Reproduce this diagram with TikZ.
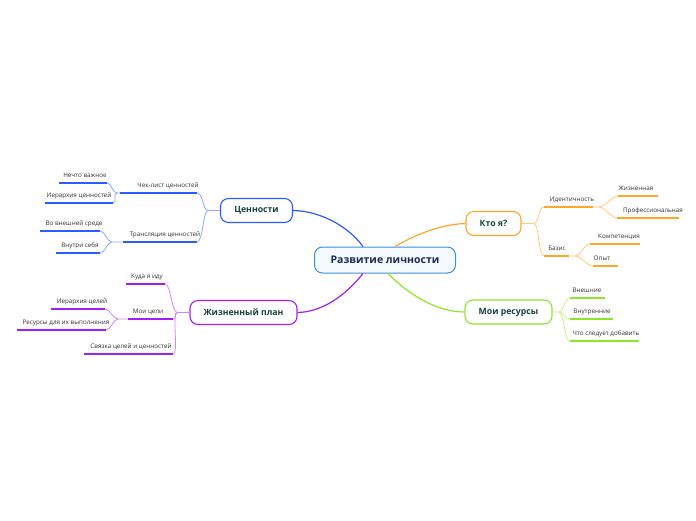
\documentclass[tikz,border=0pt]{standalone}
\usepackage{fontspec}
\setmainfont{Open Sans}
\usetikzlibrary{calc}
\definecolor{cblue}{HTML}{2B5CFF}
\definecolor{cblueL}{HTML}{8FA9FF}
\definecolor{corange}{HTML}{FFA52A}
\definecolor{corangeL}{HTML}{FFCB7A}
\definecolor{cpurple}{HTML}{A21EF2}
\definecolor{cpurpleL}{HTML}{CE86FF}
\definecolor{cgreen}{HTML}{8EE62B}
\definecolor{cgreenL}{HTML}{C4F584}
\definecolor{ccentral}{HTML}{3D8FD8}
\definecolor{ccentralF}{HTML}{F5FAFF}
\definecolor{ctopic}{HTML}{17433B}
\definecolor{cnavy}{HTML}{1B2A52}
\definecolor{cleaf}{HTML}{333333}
\tikzset{
  centralbox/.style={draw=ccentral, fill=ccentralF, line width=1pt, rounded corners=8pt,
    minimum width=141pt, minimum height=26pt, inner sep=0pt,
    font=\fontsize{10.5}{12}\selectfont\bfseries, text=cnavy},
  topicbox/.style={draw=#1, fill=white, line width=1.1pt, rounded corners=8pt,
    minimum height=24pt, inner sep=0pt,
    font=\fontsize{8.7}{10}\selectfont\bfseries, text=ctopic},
  leaftext/.style={font=\fontsize{6.3}{7}\selectfont, text=cleaf, inner sep=0pt, anchor=base},
  under/.style={draw=#1, line width=1.5pt},
  mainlink/.style={draw=#1, line width=1.2pt},
  sublink/.style={draw=#1, line width=0.8pt},
}
\newcommand\leaf[7]{%
  \coordinate (#1-l) at (#2,#4);
  \coordinate (#1-r) at (#3,#4);
  \node[leaftext] (#1) at (#5,{#4-5.5}) {#6};
  \draw[under=#7] (#1-l) -- (#1-r);}
\begin{document}
\begin{tikzpicture}[x=1pt,y=-1pt]
\useasboundingbox (0,0) rectangle (696,520);
% central and main topics
\node[centralbox] (c) at (385,260) {Развитие личности};
\node[topicbox=cblue, minimum width=72pt] (val) at (256.5,210.5) {Ценности};
\node[topicbox=corange, minimum width=55pt] (who) at (493.5,223.5) {Кто я?};
\node[topicbox=cpurple, minimum width=107pt] (plan) at (243.5,312.5) {Жизненный план};
\node[topicbox=cgreen, minimum width=87pt] (res) at (508.5,312) {Мои ресурсы};
% main links
\draw[mainlink=cblue] ($(c.north)+(-22,0)$) .. controls (348,226) and (320,211) .. (val.east);
\draw[mainlink=corange] ($(c.north)+(10,0)$) .. controls (420,232) and (445,224) .. (who.west);
\draw[mainlink=cpurple] ($(c.south)+(-22,0)$) .. controls (345,296) and (322,312) .. (plan.east);
\draw[mainlink=cgreen] ($(c.south)+(3,0)$) .. controls (410,296) and (438,312) .. (res.west);
% Ценности branch
\leaf{ck}{120}{197}{193}{168}{Чек-лист ценностей}{cblue}
\leaf{tr}{123}{197}{242}{165}{Трансляция ценностей}{cblue}
\leaf{nv}{59}{107}{183}{85}{Нечто важное}{cblue}
\leaf{ic}{45}{113}{203}{79}{Иерархия ценностей}{cblue}
\leaf{vs}{40}{100}{231}{74}{Во внешней среде}{cblue}
\leaf{vn}{56}{100}{253}{80}{Внутри себя}{cblue}
\draw[sublink=cblueL] (val.west) -- ++(-12,0) coordinate (valj)
  .. controls ++(-5,0) and ++(6,0) .. (ck-r);
\draw[sublink=cblueL] (valj) .. controls ++(-5,0) and ++(6,0) .. (tr-r);
\draw[sublink=cblueL] (ck-l) -- ++(-3,0) coordinate (ckj) .. controls ++(-5,0) and ++(5,0) .. (nv-r);
\draw[sublink=cblueL] (ckj) .. controls ++(-5,0) and ++(5,0) .. (ic-r);
\draw[sublink=cblueL] (tr-l) -- ++(-11,0) coordinate (trj) .. controls ++(-5,0) and ++(5,0) .. (vs-r);
\draw[sublink=cblueL] (trj) .. controls ++(-5,0) and ++(5,0) .. (vn-r);
% Кто я? branch
\leaf{id}{544}{593}{207}{572}{Идентичность}{corange}
\leaf{bz}{544}{569}{256}{557}{Базис}{corange}
\leaf{zh}{618}{658}{196}{636}{Жизненная}{corange}
\leaf{pr}{617}{679}{218}{653}{Профессиональная}{corange}
\leaf{km}{590}{640}{244}{619}{Компетенция}{corange}
\leaf{op}{593}{618}{266}{602}{Опыт}{corange}
\draw[sublink=corangeL] (who.east) -- ++(12,0) coordinate (whoj)
  .. controls ++(6,0) and ++(-6,0) .. (id-l);
\draw[sublink=corangeL] (whoj) .. controls ++(6,0) and ++(-6,0) .. (bz-l);
\draw[sublink=corangeL] (id-r) -- ++(6,0) coordinate (idj) .. controls ++(6,0) and ++(-6,0) .. (zh-l);
\draw[sublink=corangeL] (idj) .. controls ++(6,0) and ++(-6,0) .. (pr-l);
\draw[sublink=corangeL] (bz-r) -- ++(6,0) coordinate (bzj) .. controls ++(6,0) and ++(-6,0) .. (km-l);
\draw[sublink=corangeL] (bzj) .. controls ++(6,0) and ++(-6,0) .. (op-l);
% Жизненный план branch
\leaf{ku}{126}{165}{284}{147}{Куда я иду}{cpurple}
\leaf{mc}{128}{173}{319}{148}{Мои цели}{cpurple}
\leaf{sv}{84}{173}{354}{131}{Связка целей и ценностей}{cpurple}
\leaf{ih}{51}{105}{309}{82}{Иерархия целей}{cpurple}
\leaf{rs}{17}{106}{330}{66}{Ресурсы для их выполнения}{cpurple}
\draw[sublink=cpurpleL] (plan.west) -- ++(-12,0) coordinate (planj)
  .. controls ++(-6,0) and ++(6,0) .. (ku-r);
\draw[sublink=cpurpleL] (planj) .. controls ++(-4,0) and ++(4,0) .. (mc-r);
\draw[sublink=cpurpleL] (planj) .. controls ++(-6,0) and ++(6,0) .. (sv-r);
\draw[sublink=cpurpleL] (mc-l) -- ++(-10,0) coordinate (mcj) .. controls ++(-5,0) and ++(5,0) .. (ih-r);
\draw[sublink=cpurpleL] (mcj) .. controls ++(-5,0) and ++(5,0) .. (rs-r);
% Мои ресурсы branch
\leaf{vnsh}{570}{605}{298}{587}{Внешние}{cgreen}
\leaf{vnut}{570}{613}{319}{592}{Внутренние}{cgreen}
\leaf{chto}{570}{639}{341}{606}{Что следует добавить}{cgreen}
\draw[sublink=cgreenL] (res.east) -- ++(6,0) coordinate (resj)
  .. controls ++(5,0) and ++(-5,0) .. (vnsh-l);
\draw[sublink=cgreenL] (resj) .. controls ++(5,0) and ++(-5,0) .. (vnut-l);
\draw[sublink=cgreenL] (resj) .. controls ++(6,0) and ++(-6,0) .. (chto-l);
\end{tikzpicture}
\end{document}
